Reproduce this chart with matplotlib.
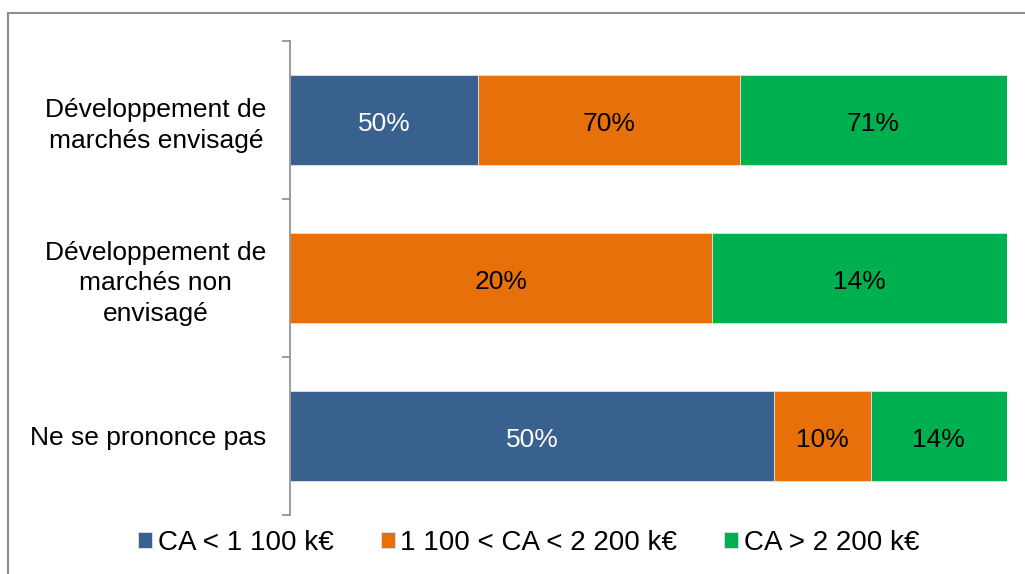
import numpy as np
import matplotlib.pyplot as plt
from matplotlib.patches import Rectangle

plt.rcParams['font.family'] = ['Liberation Sans', 'DejaVu Sans']

# Data
categories = ['Développement de\nmarchés envisagé',
              'Développement de\nmarchés non\nenvisagé',
              'Ne se prononce pas']
series_names = ['CA < 1 100 k€', '1 100 < CA < 2 200 k€', 'CA > 2 200 k€']
small = [50, 0, 50]
medium = [70, 20, 10]
large = [71, 14, 14]
colors = ['#386190', '#E8700B', '#00B050']
label_colors = ['white', 'black', 'black']

values = np.array([small, medium, large], dtype=float)
shares = values / values.sum(axis=0)

fig = plt.figure(figsize=(10.25, 5.74), dpi=100)
ax = fig.add_axes([0.283, 0.103, 0.699, 0.826])

# outer chart frame
fig.patches.append(Rectangle((8 / 1025, -0.1), 1.2, 1 - 13 / 574 + 0.1,
                             transform=fig.transFigure, fill=False,
                             edgecolor='#8c8c8c', linewidth=1.5))

y = np.arange(len(categories))
left = np.zeros(len(categories))
for i in range(len(series_names)):
    bars = ax.barh(y, shares[i], left=left, height=0.57, color=colors[i],
                   edgecolor='#dde4ee', linewidth=0.6, label=series_names[i])
    for j, b in enumerate(bars):
        if values[i, j] > 0:
            ax.text(left[j] + shares[i, j] / 2, y[j] + 0.025, f'{values[i, j]:.0f}%',
                    ha='center', va='center', fontsize=19, color=label_colors[i])
    left += shares[i]

ax.set_xlim(0, 1)
ax.set_ylim(len(categories) - 0.5, -0.5)
ax.set_xticks([])
ax.set_yticks(np.arange(-0.5, len(categories)), minor=False)
ax.set_yticklabels([])
ax.set_yticks(y, minor=True)
ax.set_yticklabels(categories, minor=True, fontsize=19, ha='right',
                   multialignment='center', linespacing=1.33)
ax.tick_params(axis='y', which='minor', length=0, pad=17)
ax.tick_params(axis='y', which='major', length=6, color='#8c8c8c', width=1.2)
for s in ['top', 'right', 'bottom']:
    ax.spines[s].set_visible(False)
ax.spines['left'].set_color('#8c8c8c')
ax.spines['left'].set_linewidth(1.2)

fig.legend(loc='center', bbox_to_anchor=(0.516, 0.054), ncol=3, frameon=False,
           fontsize=20, handlelength=0.5, handleheight=0.5, handletextpad=0.2,
           columnspacing=1.7)

fig.savefig('out.png', dpi=100)
